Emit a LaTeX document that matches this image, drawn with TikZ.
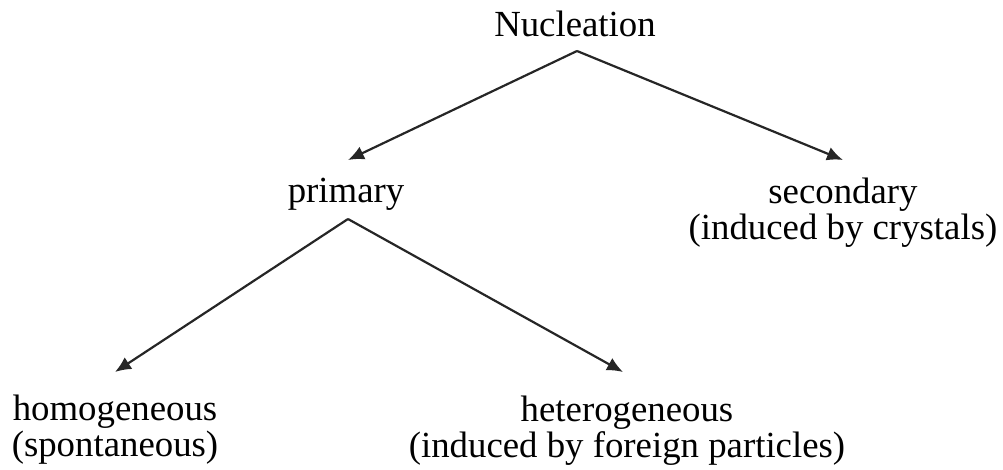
\documentclass[tikz,border=0pt]{standalone}
\usepackage{fontspec}
\setmainfont{Liberation Serif}
\usetikzlibrary{positioning, arrows.meta}

\begin{document}
\begin{tikzpicture}[x=0.5pt, y=-0.5pt,
    lbl/.style={inner sep=0pt, anchor=base, align=center, font=\fontsize{18.4pt}{18pt}\selectfont},
    arr/.style={-{Latex[length=8pt, width=7pt]}, line width=1.1pt, draw=black!85}]
            \useasboundingbox (0,0) rectangle (1003,470);
            % Nodes
            \node (nuc) [lbl] at (575,37) {Nucleation};
            \node (prim) [lbl] at (346,203) {primary};
            \node (sec) [lbl] at (843,240) {secondary\\(induced by crystals)};
            \node (homo) [lbl] at (115,457) {homogeneous\\(spontaneous)};
            \node (hetero) [lbl] at (627,458) {heterogeneous\\(induced by foreign particles)};

            % Arrows
            \draw[arr] ([shift={(2,14)}]nuc.base) -- ([shift={(2,-43)}]prim.base);
            \draw[arr] ([shift={(2,14)}]nuc.base) -- ([shift={(0,-80)}]sec.base);
            \draw[arr] ([shift={(2,16)}]prim.base) -- ([shift={(0,-85)}]homo.base);
            \draw[arr] ([shift={(2,16)}]prim.base) -- ([shift={(-4,-86)}]hetero.base);
\end{tikzpicture}
\end{document}
